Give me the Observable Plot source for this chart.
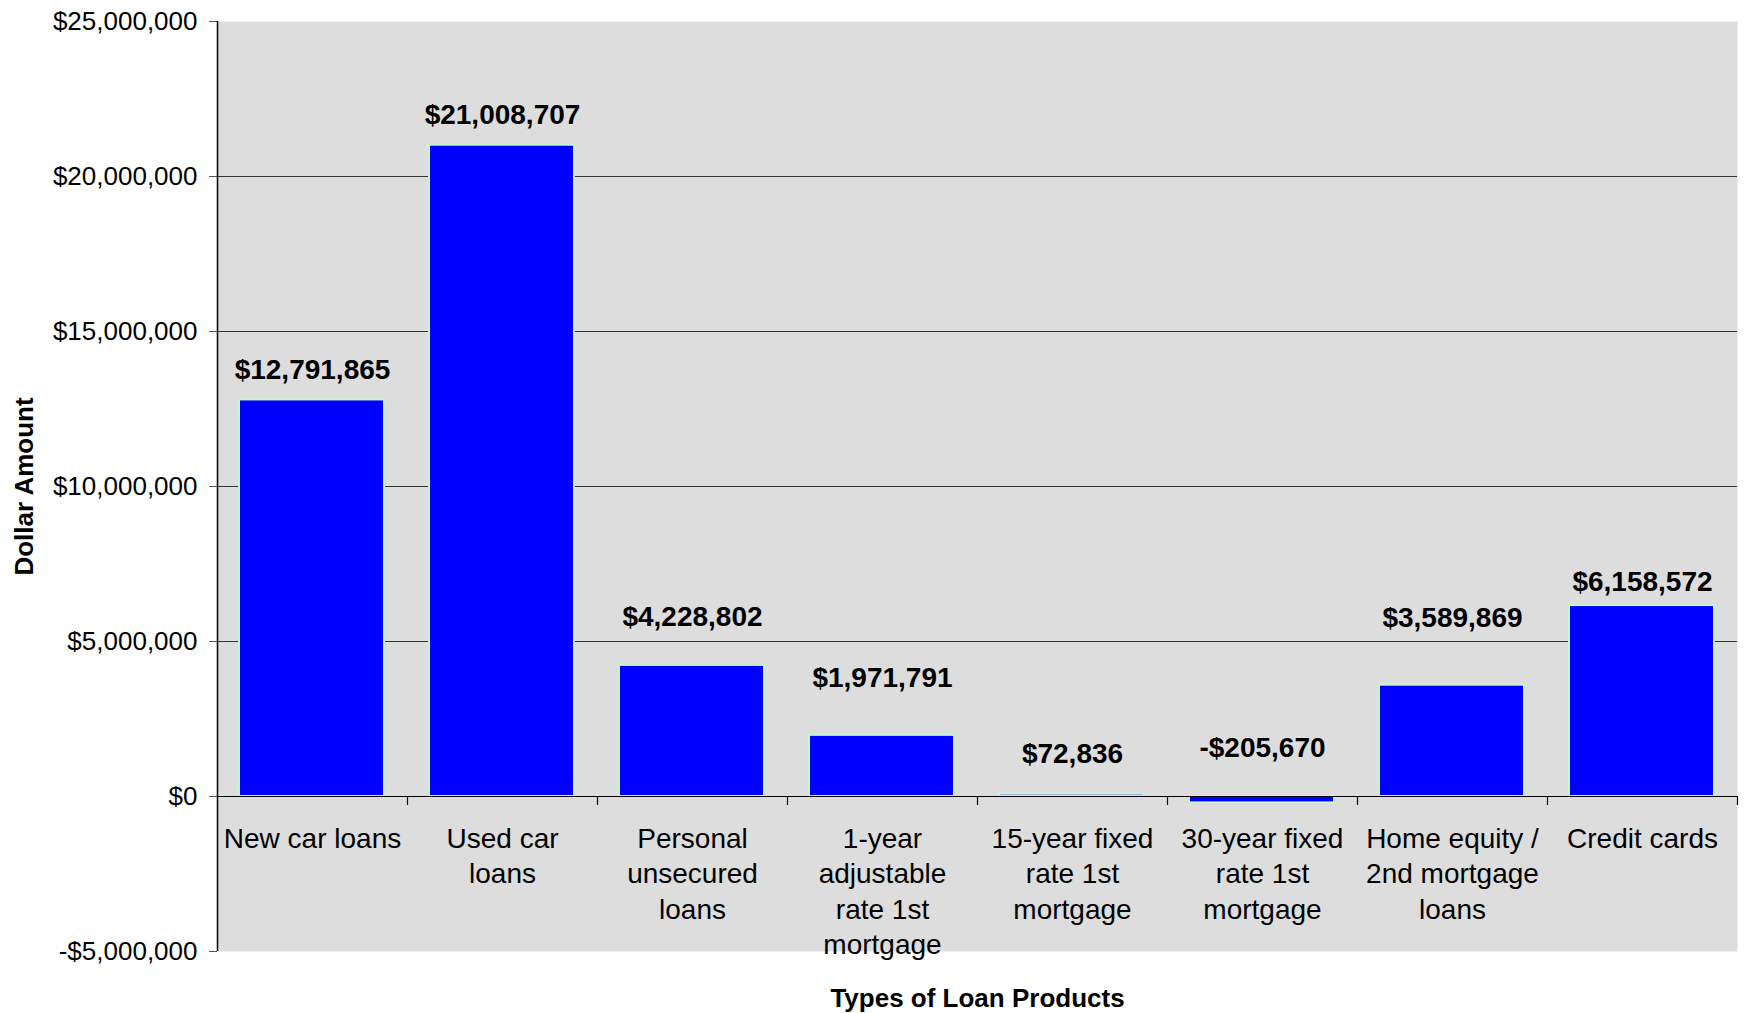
<!DOCTYPE html>
<html>
<head>
<meta charset="utf-8">
<script src="https://cdn.jsdelivr.net/npm/d3@7"></script>
<script src="https://cdn.jsdelivr.net/npm/@observablehq/plot@0.6"></script>
<style>
  html, body { margin: 0; padding: 0; background: #ffffff; }
  #chart svg { display: block; }
</style>
</head>
<body>
<div id="chart"></div>
<script>
// ---- data ----
const categories = [
  "New car loans",
  "Used car loans",
  "Personal unsecured loans",
  "1-year adjustable rate 1st mortgage",
  "15-year fixed rate 1st mortgage",
  "30-year fixed rate 1st mortgage",
  "Home equity / 2nd mortgage loans",
  "Credit cards"
];
const tickLabels = [
  "New car loans",
  "Used car\nloans",
  "Personal\nunsecured\nloans",
  "1-year\nadjustable\nrate 1st\nmortgage",
  "15-year fixed\nrate 1st\nmortgage",
  "30-year fixed\nrate 1st\nmortgage",
  "Home equity /\n2nd mortgage\nloans",
  "Credit cards"
];
const amounts = [12791865, 21008707, 4228802, 1971791, 72836, -205670, 3589869, 6158572];
const yTicks = [-5000000, 0, 5000000, 10000000, 15000000, 20000000, 25000000];
const yDomain = [-5000000, 25000000];

// ---- layout / style (not data) ----
const W = 1745, H = 1013;
const mTop = 21, mBottom = 62, mLeft = 217, mRight = 8;
const plotH = H - mTop - mBottom;
const band = (W - mLeft - mRight) / categories.length;
const labelDy = [-30, -30, -48, -57, -40, -55, -67, -24];
const font = "'Liberation Sans', Arial, Helvetica, sans-serif";

const rows = categories.map((c, i) => ({cat: c, label: tickLabels[i], value: amounts[i]}));
const fmt = v => (v < 0 ? "-$" : "$") + d3.format(",")(Math.abs(v));
const tickDepth = -(yDomain[1] - yDomain[0]) * 9 / plotH;

const labelMarks = rows.map((r, i) =>
  Plot.text([r], {
    x: "cat", y: "value", text: d => fmt(d.value),
    dy: labelDy[i], fontSize: 28, fontWeight: "bold", fill: "#000"
  })
);

const chart = Plot.plot({
  width: W, height: H,
  marginTop: mTop, marginBottom: mBottom, marginLeft: mLeft, marginRight: mRight,
  style: {fontFamily: font, background: "#ffffff", color: "#000"},
  x: {domain: categories, padding: 0, axis: null},
  y: {domain: yDomain, axis: null},
  marks: [
    Plot.frame({fill: "#dddddd", stroke: null}),
    Plot.ruleY(yTicks.filter(t => t > 0 && t < yDomain[1]), {stroke: "#333", strokeWidth: 1}),
    Plot.axisY({
      ticks: yTicks, tickSize: 8, tickPadding: 12, fontSize: 26,
      tickFormat: fmt, label: null, stroke: "#555"
    }),
    Plot.barY(rows, {
      x: "cat", y: "value", fill: "#0000ff", stroke: "#c8f5c8", strokeWidth: 2,
      insetLeft: 22, insetRight: 23
    }),
    Plot.ruleY([0], {stroke: "#000", strokeWidth: 1.2}),
    Plot.ruleX(rows, {x: "cat", y1: 0, y2: tickDepth, dx: band / 2, stroke: "#000", strokeWidth: 1.2}),
    Plot.ruleX([rows[0]], {x: "cat", dx: -band / 2, stroke: "#000", strokeWidth: 1.5}),
    Plot.text(rows, {
      x: "cat", y: 0, text: "label", lineAnchor: "top", dy: 26,
      fontSize: 28, lineHeight: 1.27, fill: "#000"
    }),
    ...labelMarks,
    Plot.text(["Dollar Amount"], {
      frameAnchor: "left", textAnchor: "middle", text: d => d, rotate: -90, dx: -193,
      fontSize: 26, fontWeight: "bold", fill: "#000"
    }),
    Plot.text(["Types of Loan Products"], {
      frameAnchor: "bottom", text: d => d, dy: 55,
      fontSize: 26, fontWeight: "bold", fill: "#000"
    })
  ]
});
document.getElementById("chart").appendChild(chart);
</script>
</body>
</html>
